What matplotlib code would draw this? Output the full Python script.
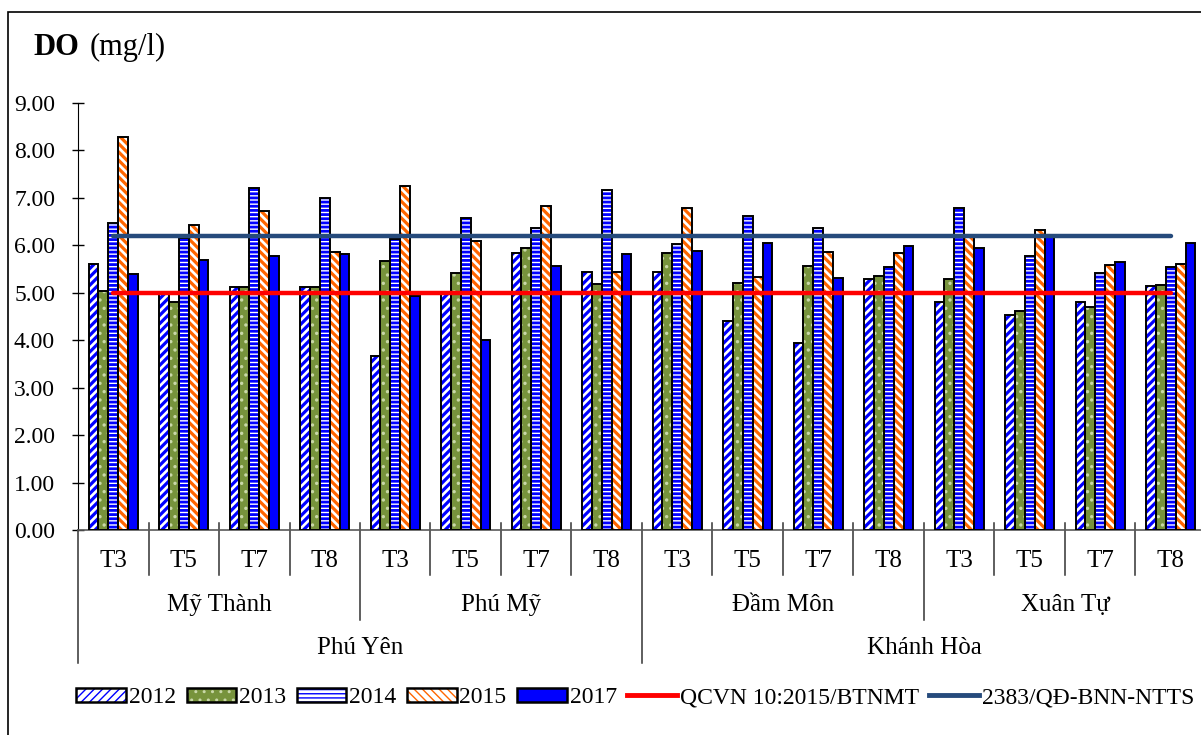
#!/usr/bin/env python3
"""
DO (mg/l) by month, site and province, 2012-2017, with two reference limits.
Writes out.png
"""
import numpy as np
import matplotlib
matplotlib.use("Agg")
import matplotlib.pyplot as plt
from matplotlib.patches import Patch, Rectangle
from matplotlib.lines import Line2D
from matplotlib.legend_handler import HandlerTuple
import matplotlib.transforms as mtransforms


months = ["T3", "T5", "T7", "T8"] * 4
sites = ["Mỹ Thành", "Phú Mỹ", "Đầm Môn", "Xuân Tự"]
provinces = ["Phú Yên", "Khánh Hòa"]

years = ["2012", "2013", "2014", "2015", "2017"]
do_2012 = [5.61, 4.97, 5.12, 5.12, 3.67, 4.97, 5.84, 5.44,
           5.44, 4.41, 3.93, 5.28, 4.81, 4.53, 4.81, 5.14]
do_2013 = [5.04, 4.81, 5.11, 5.11, 5.66, 5.42, 5.93, 5.18,
           5.84, 5.21, 5.56, 5.35, 5.28, 4.61, 4.69, 5.16]
do_2014 = [6.47, 6.14, 7.21, 7.00, 6.13, 6.58, 6.37, 7.16,
           6.02, 6.62, 6.37, 5.53, 6.79, 5.77, 5.42, 5.54]
do_2015 = [8.28, 6.42, 6.72, 5.86, 7.25, 6.09, 6.82, 5.44,
           6.79, 5.33, 5.86, 5.84, 6.18, 6.32, 5.59, 5.61]
do_2017 = [5.39, 5.68, 5.77, 5.81, 4.93, 4.00, 5.56, 5.82,
           5.88, 6.04, 5.31, 5.99, 5.93, 6.20, 5.64, 6.05]

limit_names = ["QCVN 10:2015/BTNMT", "2383/QĐ-BNN-NTTS"]
limit_values = [5.0, 6.2]

# (face, hatch colour, hatch, hatch linewidth) per year
STYLES = [
    ("white", "#0000FF", "////", 2.3),
    ("#77933C", "#C9D8A8", "..", 1.2),
    ("white", "#0000FF", "----", 2.0),
    ("white", "#FF6600", "\\\\\\\\", 2.3),
    ("#0000FF", "#0000FF", "", 1.0),
]
LIMIT_COLORS = ["#FF0000", "#264B7C"]


def main():
    plt.rcParams["font.family"] = ["Liberation Serif", "DejaVu Serif"]

    fig = plt.figure(figsize=(12.01, 7.35), dpi=100)
    ax = fig.add_axes([78 / 1201, 0.2789, 1128 / 1201, 0.5814])

    series = [do_2012, do_2013, do_2014, do_2015, do_2017]
    x = np.arange(len(months))
    w = 0.14
    handles = []
    for i, (vals, (face, hcol, hatch, hlw)) in enumerate(zip(series, STYLES)):
        pos = x + (i - 2) * w
        with plt.rc_context({"hatch.linewidth": hlw}):
            ax.bar(pos, vals, w, color=face, edgecolor=hcol, hatch=hatch, linewidth=0, zorder=2)
            hp = Patch(facecolor=face, edgecolor=hcol, hatch=hatch, linewidth=0)
        ax.bar(pos, vals, w, fill=False, edgecolor="black", linewidth=1.4, zorder=3)
        handles.append((hp, Patch(fill=False, edgecolor="black", linewidth=1.8)))

    for val, col in zip(limit_values, LIMIT_COLORS):
        ax.plot(x, [val] * len(x), color=col, linewidth=3.2, solid_capstyle="round", zorder=4)
        handles.append(Line2D([0], [0], color=col, linewidth=3.5))

    ax.set_xlim(-0.5, len(months) - 0.5)
    ax.set_ylim(0, 9)
    ax.set_yticks(np.arange(0, 10))
    ax.set_yticklabels([f"{v:.2f}" for v in np.arange(0, 10)])
    ax.tick_params(axis="y", direction="inout", length=9, width=1, labelsize=17, pad=12)
    ax.set_xticks([])
    for s in ["top", "right"]:
        ax.spines[s].set_visible(False)
    ax.spines["left"].set_color("black")
    ax.spines["bottom"].set_color("#595959")
    ax.spines["bottom"].set_linewidth(1.2)
    ax.patch.set_visible(False)

    # multi-level category axis
    tr = mtransforms.blended_transform_factory(ax.transData, ax.transAxes)
    sep_kw = dict(color="#333333", linewidth=1.1, transform=tr, clip_on=False)
    for b in range(len(months) + 1):
        xb = b - 0.5
        if b % 8 == 0:
            bottom = -0.311
        elif b % 4 == 0:
            bottom = -0.2106
        else:
            bottom = -0.1053
        top = 0.0 if b == 0 else 0.0164
        ax.plot([xb, xb], [top, bottom], **sep_kw)
    for i, m in enumerate(months):
        ax.text(i, -0.0725, m, transform=tr, ha="center", va="center", fontsize=18)
    for i, s in enumerate(sites):
        ax.text(i * 4 + 1.5, -0.1755, s, transform=tr, ha="center", va="center", fontsize=18)
    for i, p in enumerate(provinces):
        ax.text(i * 8 + 3.5, -0.276, p, transform=tr, ha="center", va="center", fontsize=18)

    fig.text(33 / 1201, 0.936, "DO", fontsize=22, fontweight="bold", ha="left", va="center")
    fig.text(90 / 1201, 0.936, "(mg/l)", fontsize=22, ha="left", va="center")

    fig.legend(handles, years + limit_names, loc="center", bbox_to_anchor=(0.529, 0.051),
               ncol=7, frameon=False, fontsize=17, handlelength=2.1, handleheight=0.55,
               handletextpad=0.12, columnspacing=0.45,
               handler_map={tuple: HandlerTuple(ndivide=1)})

    fig.patches.append(Rectangle((8 / 1201, -0.1), 1.1, 1.1 - 12 / 735, transform=fig.transFigure,
                                 fill=False, edgecolor="black", linewidth=1.2))

    fig.savefig("out.png", dpi=100)
    plt.close(fig)


if __name__ == "__main__":
    main()
